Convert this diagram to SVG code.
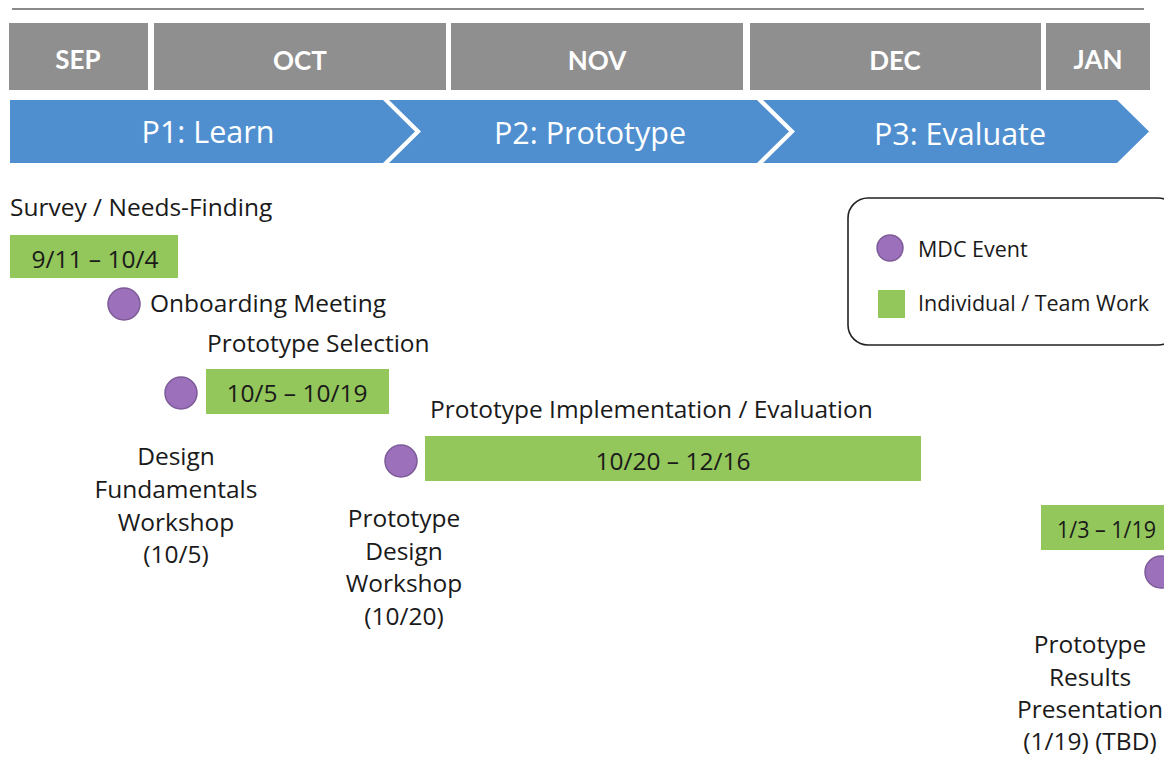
<svg xmlns="http://www.w3.org/2000/svg" width="1164" height="759" viewBox="0 0 1164 759">
<defs>
<style>
.month{fill:#8f8f8f}
.mtxt{font-family:Lato,"Open Sans",sans-serif;font-weight:bold;font-size:26px;fill:#fff;text-anchor:middle}
.phase{fill:#4f8fd0}
.ptxt{font-family:"Open Sans",Lato,sans-serif;font-size:30.5px;fill:#fff;text-anchor:middle}
.lbl{font-family:"Open Sans",Lato,sans-serif;font-size:24.5px;fill:#1a1a1a}
.ctr{text-anchor:middle}
.leg{font-size:21.5px}
.work{fill:#93c65b}
.event{fill:#9c70bb;stroke:#7d5a98;stroke-width:1.5}
</style>
</defs>
<rect width="1164" height="759" fill="#fff"/>
<line x1="12" y1="9" x2="1144" y2="9" stroke="#8a8a8a" stroke-width="2"/>
<g id="months">
<rect class="month" x="9" y="23" width="139" height="67"/>
<text class="mtxt" x="78" y="69">SEP</text>
<rect class="month" x="154" y="23" width="292" height="67"/>
<text class="mtxt" x="300" y="70">OCT</text>
<rect class="month" x="451" y="23" width="292" height="67"/>
<text class="mtxt" x="597" y="70">NOV</text>
<rect class="month" x="750" y="23" width="291" height="67"/>
<text class="mtxt" x="895" y="70">DEC</text>
<rect class="month" x="1046" y="23" width="104" height="67"/>
<text class="mtxt" x="1098" y="69">JAN</text>
</g>
<g id="phase-p1">
<polygon class="phase" points="10,100 383,100 415,131.5 383,163 10,163"/>
<text class="ptxt" x="208" y="143">P1: Learn</text>
</g>
<g id="phase-p2">
<polygon class="phase" points="389,100 757,100 789,131.5 757,163 389,163 421,131.5"/>
<text class="ptxt" x="590" y="144">P2: Prototype</text>
</g>
<g id="phase-p3">
<polygon class="phase" points="763,100 1117,100 1149,131.5 1117,163 763,163 795,131.5"/>
<text class="ptxt" x="960" y="145">P3: Evaluate</text>
</g>
<g id="survey">
<text class="lbl" x="10" y="216">Survey / Needs-Finding</text>
<rect class="work" x="10" y="235" width="168" height="43"/>
<text class="lbl ctr" x="95" y="268">9/11 – 10/4</text>
</g>
<g id="onboarding">
<circle class="event" cx="124" cy="304" r="16"/>
<text class="lbl" x="150" y="312">Onboarding Meeting</text>
</g>
<g id="selection">
<text class="lbl" x="207" y="352">Prototype Selection</text>
<rect class="work" x="206" y="369" width="183" height="45"/>
<text class="lbl ctr" x="297" y="402">10/5 – 10/19</text>
</g>
<g id="design-fundamentals">
<circle class="event" cx="181" cy="393" r="16"/>
<text class="lbl ctr" x="176" y="465">Design</text>
<text class="lbl ctr" x="176" y="498">Fundamentals</text>
<text class="lbl ctr" x="176" y="531">Workshop</text>
<text class="lbl ctr" x="176" y="563">(10/5)</text>
</g>
<g id="implementation">
<text class="lbl" x="430" y="418">Prototype Implementation / Evaluation</text>
<rect class="work" x="425" y="436" width="496" height="45"/>
<text class="lbl ctr" x="673" y="470">10/20 – 12/16</text>
</g>
<g id="design-workshop">
<circle class="event" cx="401" cy="461" r="16"/>
<text class="lbl ctr" x="404" y="527">Prototype</text>
<text class="lbl ctr" x="404" y="560">Design</text>
<text class="lbl ctr" x="404" y="592">Workshop</text>
<text class="lbl ctr" x="404" y="625">(10/20)</text>
</g>
<g id="legend">
<rect x="848" y="198" width="330" height="147" rx="20" ry="20" fill="#fff" stroke="#222" stroke-width="1.6"/>
<circle class="event" cx="890" cy="248" r="13"/>
<text class="lbl leg" x="918" y="257">MDC Event</text>
<rect class="work" x="878" y="290" width="27" height="28"/>
<text class="lbl leg" x="918" y="311">Individual / Team Work</text>
</g>
<g id="results-work">
<rect class="work" x="1041" y="505" width="130" height="45"/>
<text class="lbl" x="1057" y="538" textLength="99" lengthAdjust="spacingAndGlyphs">1/3 – 1/19</text>
</g>
<g id="results-presentation">
<circle class="event" cx="1161" cy="572" r="16"/>
<text class="lbl ctr" x="1090" y="653">Prototype</text>
<text class="lbl ctr" x="1090" y="686">Results</text>
<text class="lbl ctr" x="1090" y="718">Presentation</text>
<text class="lbl ctr" x="1090" y="750">(1/19) (TBD)</text>
</g>
<g id="connectors"></g>
</svg>
